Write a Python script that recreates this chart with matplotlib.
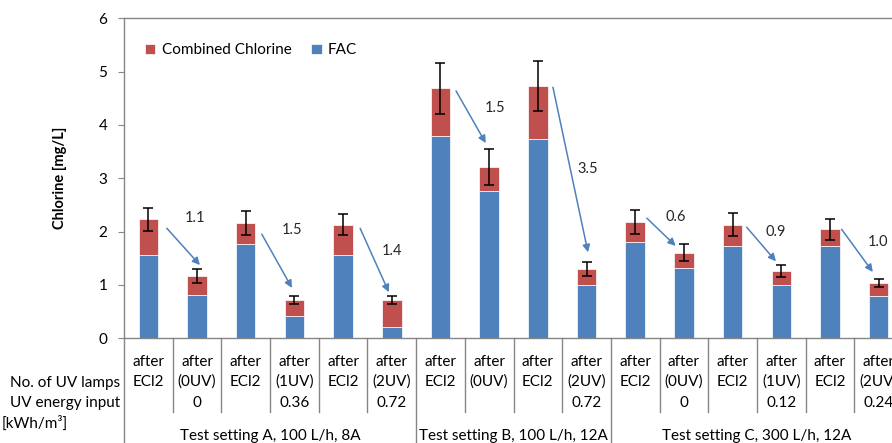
import matplotlib
matplotlib.use("Agg")
import matplotlib.pyplot as plt
import numpy as np

plt.rcParams['font.family'] = ['Lato', 'DejaVu Sans']

# chlorine per sample [mg/L]
row1 = ["after", "after", "after", "after", "after", "after",
        "after", "after", "after", "after",
        "after", "after", "after", "after", "after", "after"]
row2 = ["ECl2", "(0UV)", "ECl2", "(1UV)", "ECl2", "(2UV)",
        "ECl2", "(0UV)", "ECl2", "(2UV)",
        "ECl2", "(0UV)", "ECl2", "(1UV)", "ECl2", "(2UV)"]
energy = ["", "0", "", "0.36", "", "0.72",
          "", "", "", "0.72",
          "", "0", "", "0.12", "", "0.24"]
groups = ["Test setting A, 100 L/h, 8A",
          "Test setting B, 100 L/h, 12A",
          "Test setting C, 300 L/h, 12A"]
group_sizes = [6, 4, 6]

fac = [1.56, 0.80, 1.77, 0.42, 1.56, 0.20,
       3.80, 2.76, 3.73, 0.99,
       1.81, 1.31, 1.73, 0.99, 1.73, 0.78]
total = [2.23, 1.16, 2.16, 0.71, 2.13, 0.71,
         4.69, 3.21, 4.74, 1.29,
         2.18, 1.60, 2.13, 1.26, 2.04, 1.03]
err = [0.22, 0.13, 0.22, 0.075, 0.20, 0.075,
       0.48, 0.33, 0.47, 0.13,
       0.22, 0.16, 0.22, 0.12, 0.20, 0.075]

# reduction of total chlorine between pairs
reductions = ["1.1", "1.5", "1.4", "1.5", "3.5", "0.6", "0.9", "1.0"]
# arrow layout: x0, y0, x1, y1, label x, label y
arrows = [(0.38, 2.06, 1.06, 1.37, 0.96, 2.25),
          (2.33, 1.95, 2.95, 0.94, 2.95, 2.03),
          (4.35, 2.06, 4.94, 0.86, 5.00, 1.63),
          (6.32, 4.64, 6.93, 3.66, 7.12, 4.31),
          (8.31, 4.71, 9.03, 1.61, 9.03, 3.17),
          (10.24, 2.25, 10.83, 1.73, 10.83, 2.27),
          (12.29, 2.08, 12.89, 1.44, 12.89, 1.99),
          (14.24, 2.04, 14.88, 1.24, 14.98, 1.80)]

red = '#C0504D'
blue = '#4F81BD'
grey = '#868686'

fac = np.array(fac)
total = np.array(total)
combined = total - fac
x = np.arange(len(fac))

fig = plt.figure(figsize=(8.92, 4.43), dpi=100)
ax = fig.add_axes([124 / 892, 105 / 443, 779 / 892, 319.5 / 443])

ax.bar(x, fac, width=0.4, color=blue, edgecolor='white', linewidth=0.5, label='FAC', zorder=2)
ax.bar(x, combined, width=0.4, bottom=fac, color=red, edgecolor='white', linewidth=0.5,
       label='Combined Chlorine', zorder=2)
ax.errorbar(x, total, yerr=err, fmt='none', ecolor='black', elinewidth=1.1,
            capsize=3.5, capthick=1.1, zorder=3)

for (x0, y0, x1, y1, tx, ty), lab in zip(arrows, reductions):
    ax.annotate('', xy=(x1, y1), xytext=(x0, y0),
                arrowprops=dict(arrowstyle='-|>', color=blue, lw=1.1,
                                mutation_scale=11, shrinkA=0, shrinkB=0))
    ax.text(tx, ty, lab, ha='center', va='center', fontsize=10.5, color='#262626')

ax.set_xlim(-0.5, len(fac) - 0.5)
ax.set_ylim(0, 6)
ax.set_yticks(range(7))
ax.tick_params(axis='y', labelsize=11, color=grey, length=4, pad=8)
ax.set_xticks([])
for side in ['left', 'top', 'bottom', 'right']:
    ax.spines[side].set_color(grey)
    ax.spines[side].set_linewidth(1.0)
ax.set_ylabel('Chlorine [mg/L]', fontsize=10.5, fontweight='bold', labelpad=23)

h, l = ax.get_legend_handles_labels()
ax.legend(h[::-1], l[::-1], loc='upper left', ncol=2, frameon=False, fontsize=11,
          handlelength=0.7, handleheight=0.7, handletextpad=0.4, columnspacing=1.3,
          bbox_to_anchor=(0.009, 0.965))

# multi-level category axis below the plot
tr = ax.get_xaxis_transform()
px = 1 / 319.5
for i in range(len(fac)):
    ax.text(i, -(362 - 338) * px, row1[i], transform=tr, ha='center', va='center', fontsize=11)
    ax.text(i, -(382 - 338) * px, row2[i], transform=tr, ha='center', va='center', fontsize=11)
    ax.text(i, -(403 - 338) * px, energy[i], transform=tr, ha='center', va='center', fontsize=11)

edges = np.cumsum([0] + group_sizes) - 0.5
for i in range(len(fac) + 1):
    xe = i - 0.5
    y_end = -0.36 if xe in edges else -(412 - 338) * px
    ax.plot([xe, xe], [0, y_end], transform=tr, color=grey, lw=1.0, clip_on=False)

for k, g in enumerate(groups):
    xc = (edges[k] + edges[k + 1]) / 2
    ax.text(xc, -(436 - 338) * px, g, transform=tr, ha='center', va='center', fontsize=11)

fig.text(120 / 892, 1 - 383 / 443, 'No. of UV lamps', ha='right', va='center', fontsize=11)
fig.text(120 / 892, 1 - 403 / 443, 'UV energy input', ha='right', va='center', fontsize=11)
fig.text(2 / 892, 1 - 423 / 443, '[kWh/m³]', ha='left', va='center', fontsize=11)

fig.savefig('out.png', dpi=100)
